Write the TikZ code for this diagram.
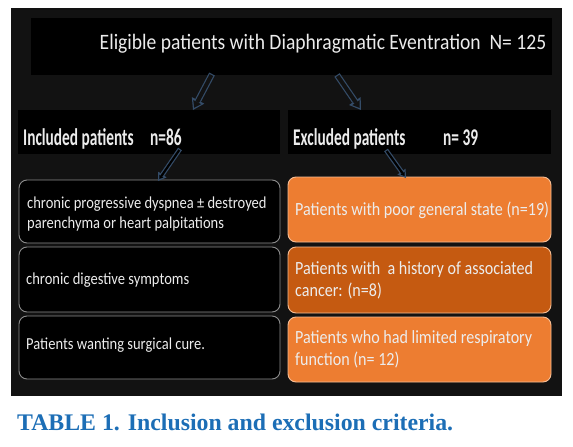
\documentclass[tikz,border=0pt]{standalone}
\usepackage{fontspec}
\usetikzlibrary{arrows.meta}
\setmainfont{Liberation Serif}
\newfontfamily\titlef[FakeStretch=0.89]{Carlito}
\newfontfamily\headf[FakeStretch=0.64]{Carlito}
\newfontfamily\bodyf[FakeStretch=0.865]{Carlito}
\definecolor{bgc}{RGB}{18,18,18}
\definecolor{txt}{RGB}{236,236,236}
\definecolor{orA}{RGB}{237,125,49}
\definecolor{orB}{RGB}{197,90,17}
\definecolor{orline}{RGB}{246,190,150}
\definecolor{grayline}{RGB}{140,140,140}
\definecolor{arrowc}{RGB}{52,76,104}
\definecolor{capc}{RGB}{28,110,182}
\tikzset{
  blackbox/.style={fill=black, draw=none, inner sep=0pt},
  leftbox/.style={draw=grayline, line width=0.9pt, fill=black, rounded corners=8pt,
    minimum width=261pt, minimum height=#1, inner sep=0pt},
  rightbox/.style={draw=orline, line width=0.9pt, rounded corners=8pt,
    minimum width=263pt, minimum height=#1, inner sep=0pt},
  lefttext/.style={anchor=west, inner sep=0pt, align=left, text=txt,
    font=\bodyf\fontsize{16.8}{20}\selectfont},
  righttext/.style={anchor=west, inner sep=0pt, align=left, text=txt,
    font=\bodyf\fontsize{18.6}{22.5}\selectfont},
  headtext/.style={text=txt, inner sep=0pt, anchor=base west,
    font=\headf\bfseries\fontsize{24}{26}\selectfont},
  arrowout/.style={draw=arrowc, line width=#1,
    -{Triangle[length=1.7*#1, width=2.2*#1, line width=0pt]}},
  arrowin/.style={draw=bgc, line width=#1-2.4pt, shorten <=1.2pt, shorten >=2.5pt,
    -{Triangle[length=1.7*#1-4.4pt, width=2.2*#1-5.2pt, line width=0pt]}},
}
\begin{document}
\begin{tikzpicture}[x=1pt, y=-1pt]
\useasboundingbox (0,0) rectangle (573,447);
\fill[white] (0,0) rectangle (573,447);
\fill[bgc] (11,8) rectangle (562,396);

% title
\node[blackbox, minimum width=521pt, minimum height=57pt] (title) at (291.5,46.5) {};
\node[text=txt, inner sep=0pt, font=\titlef\fontsize{22}{24}\selectfont] (titletext) at (323,44)
  {Eligible patients with Diaphragmatic Eventration\ \ N= 125};

% headers
\node[blackbox, minimum width=262pt, minimum height=44pt] (inc) at (149,132) {};
\node[blackbox, minimum width=263pt, minimum height=44pt] (exc) at (419.5,132) {};
\node[headtext] (inctext) at (23,145) {\makebox[127pt][l]{Included patients}n=86};
\node[headtext] (exctext) at (293,145) {\makebox[150pt][l]{Excluded patients}n= 39};

% left boxes
\node[leftbox=63pt] (l1) at (149.5,211.5) {};
\node[leftbox=65pt] (l2) at (149.5,279.5) {};
\node[leftbox=63pt] (l3) at (149.5,347.5) {};
\node[lefttext] (l1t) at (27,214) {chronic progressive dyspnea ± destroyed\\parenchyma or heart palpitations};
\node[lefttext] (l2t) at (26,280) {chronic digestive symptoms};
\node[lefttext] (l3t) at (26,345.5) {Patients wanting surgical cure.};

% right boxes
\node[rightbox=65pt, fill=orA] (r1) at (419.5,209.5) {};
\node[rightbox=66pt, fill=orB] (r2) at (419.5,280) {};
\node[rightbox=65pt, fill=orA] (r3) at (419.5,349.5) {};
\node[righttext] (r1t) at (295,210) {Patients with poor general state (n=19)};
\node[righttext] (r2t) at (295,280.5) {Patients with\ \ a history of associated\\cancer: (n=8)};
\node[righttext] (r3t) at (295,349.5) {Patients who had limited respiratory\\function (n=\ 12)};

% arrows
\coordinate (a1s) at (212,74);
\coordinate (a1e) at (193,110);
\coordinate (a2s) at (337,75);
\coordinate (a2e) at (361,110);
\coordinate (a3s) at (180,149);
\coordinate (a3e) at (158,181);
\coordinate (a4s) at (386,150);
\coordinate (a4e) at (406,178);
\draw[arrowout=6.4pt] (a1s) -- (a1e);
\draw[arrowin=6.4pt] (a1s) -- (a1e);
\draw[arrowout=6.4pt] (a2s) -- (a2e);
\draw[arrowin=6.4pt] (a2s) -- (a2e);
\draw[arrowout=4.6pt] (a3s) -- (a3e);
\draw[arrowin=4.6pt, draw=black] (a3s) -- (a3e);
\draw[arrowout=4.6pt] (a4s) -- (a4e);
\draw[arrowin=4.6pt, draw=black] (a4s) -- (a4e);

% caption
\node[anchor=base west, inner sep=0pt, text=capc, font=\bfseries\fontsize{23.8}{26}\selectfont] (caption)
  at (17,430) {TABLE 1. Inclusion and exclusion criteria.};
\end{tikzpicture}
\end{document}
